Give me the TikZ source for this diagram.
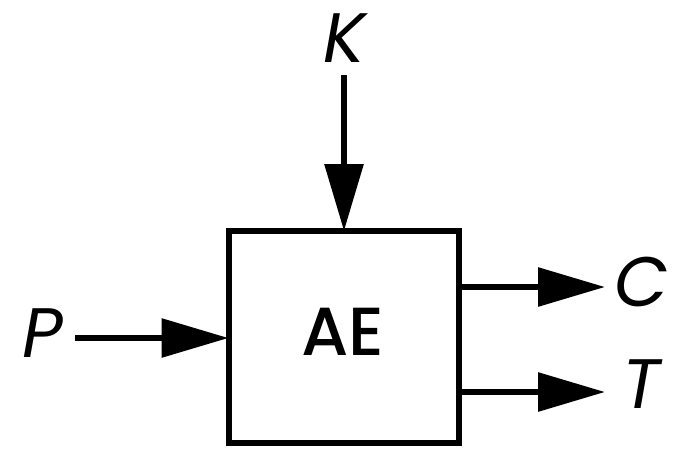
\documentclass[tikz,border=0pt]{standalone}
\usepackage{fontspec}
\setmainfont{Poppins}
\newfontfamily\aefont{Poppins Medium}
\usetikzlibrary{arrows.meta}
\begin{document}
\begin{tikzpicture}[x=1pt,y=-1pt,
  lbl/.style={font=\fontsize{70}{70}\selectfont\itshape, inner sep=0pt, anchor=center},
  flow/.style={line width=6pt, -{Triangle[length=67pt,width=38pt]}, shorten >=-3pt}]
\useasboundingbox (0,0) rectangle (676,451);
\node[draw, line width=6pt, minimum width=230pt, minimum height=212pt, inner sep=0pt] (ae) at (343.5,337) {};
\node[font=\fontsize{68}{68}\selectfont\aefont, inner sep=0pt] at (343,332) {AE};
\node[lbl] (k) at (344,38) {K};
\node[lbl] (p) at (43,333) {P};
\node[lbl] (c) at (642,282) {C};
\node[lbl] (t) at (641,384) {T};
\coordinate (ks) at (344,75);
\coordinate (ps) at (75,338);
\coordinate (ce) at (605,287);
\coordinate (te) at (605,392);
\draw[flow] (ks) -- (ae.north -| ks);
\draw[flow] (ps) -- (ae.west |- ps);
\draw[flow, shorten >=0pt] (ae.east |- ce) -- (ce);
\draw[flow, shorten >=0pt] (ae.east |- te) -- (te);
\end{tikzpicture}
\end{document}
